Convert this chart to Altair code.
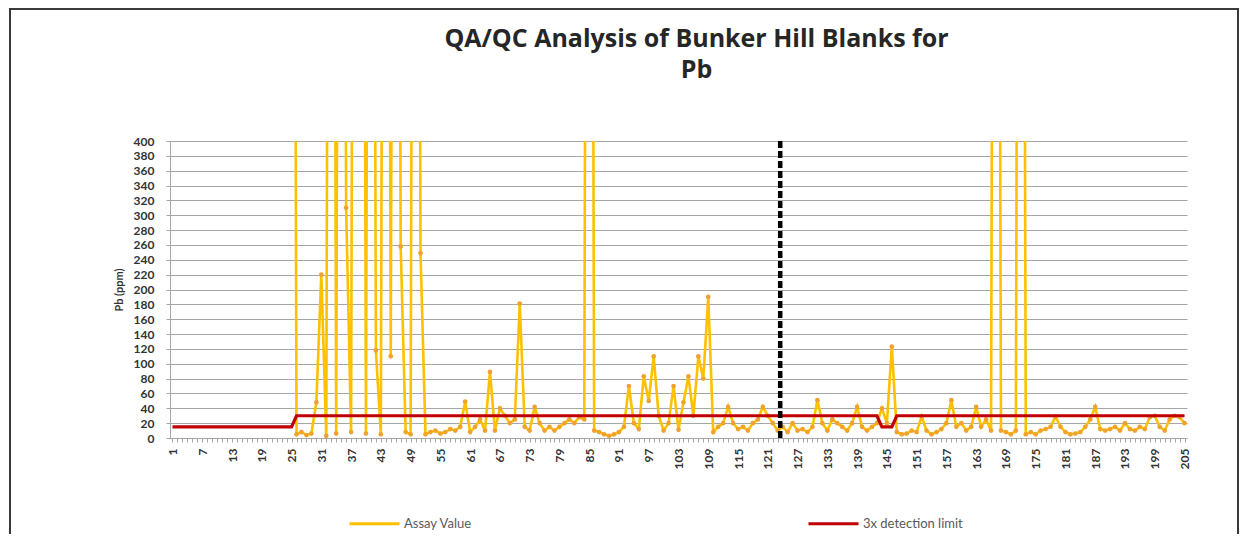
import altair as alt
import pandas as pd

# ---------------- data ----------------
categories = list(range(1, 206))

# Assay values (ppm); samples 1-24 have no assay value
assay_values = [
    2500, 5, 8, 4, 6, 48, 220, 3, 2500, 6,            # 25-34
    2500, 310, 8, 2500, 2500, 6, 2500, 118, 5, 2500,  # 35-44
    110, 2500, 258, 8, 5, 2500, 249, 5, 8, 10,        # 45-54
    6, 8, 12, 10, 15, 49, 8, 15, 25, 10,              # 55-64
    89, 10, 40, 30, 20, 25, 181, 15, 10, 42,          # 65-74
    20, 10, 15, 10, 15, 20, 25, 20, 28, 25,           # 75-84
    2500, 10, 8, 5, 3, 5, 8, 15, 70, 20,              # 85-94
    12, 83, 50, 110, 30, 10, 20, 70, 11, 48,          # 95-104
    83, 30, 110, 80, 190, 8, 15, 20, 42, 20,          # 105-114
    12, 15, 10, 20, 25, 42, 30, 20, 10, 15,           # 115-124
    8, 20, 10, 12, 8, 15, 51, 20, 10, 25,             # 125-134
    20, 15, 10, 20, 42, 15, 10, 15, 20, 40,           # 135-144
    20, 123, 8, 5, 6, 10, 8, 29, 10, 5,               # 145-154
    8, 12, 20, 51, 15, 20, 10, 15, 42, 15,            # 155-164
    25, 10, 2500, 10, 8, 5, 10, 2500, 5, 8,           # 165-174
    5, 10, 12, 15, 29, 15, 8, 5, 6, 8,                # 175-184
    15, 25, 42, 12, 10, 12, 15, 10, 20, 12,           # 185-194
    10, 15, 12, 28, 30, 15, 10, 25, 30, 28,           # 195-204
    20,                                               # 205
]
assay = [None] * 24 + assay_values

# 3x detection limit (ppm), read as steps
limit = [15] * 25 + [30] * 118 + [15] * 3 + [30] * 59

divider = [123.5]          # dashed separator position (sample no.)
x_label_step = 6           # x labels shown every 6th sample (1, 7, 13, ...)
y_ticks = list(range(0, 401, 20))

series_names = ["Assay Value", "3x detection limit"]
series_colors = ["#FFC000", "#C00000"]
marker_color = "#F0A22E"

df_assay = pd.DataFrame({"cat": categories, "value": assay, "series": series_names[0]})
df_limit = pd.DataFrame({"cat": categories, "value": limit, "series": series_names[1]})
df_div = pd.DataFrame({"cat": divider, "value": [0], "y1": [400]})

W, H = 1017, 297
FONT = "Lato"
TXT = "#333333"

x_scale = alt.Scale(domain=[0.5, 205.5], nice=False, zero=False)
y_scale = alt.Scale(domain=[0, 400], nice=False)

x_axis = alt.Axis(
    values=categories,
    labelExpr=f"(datum.value - 1) % {x_label_step} === 0 ? datum.label : ''",
    labelAngle=-90, labelOverlap=False, labelFlush=False,
    labelFontSize=12, labelFontWeight="bold", labelColor=TXT, labelFont=FONT,
    labelPadding=6, tickSize=4, tickColor="#A6A6A6", domainColor="#A6A6A6",
    grid=False, title=None,
)
y_axis = alt.Axis(
    values=y_ticks, title="Pb (ppm)", titleFont=FONT, titleFontSize=11,
    titleFontWeight="bold", titleColor=TXT, titlePadding=9,
    labelFont=FONT, labelFontSize=12, labelFontWeight="bold", labelColor=TXT,
    labelOverlap=False, labelFlush=False,
    labelPadding=12, tickSize=4, tickColor="#A6A6A6", domainColor="#A6A6A6",
    grid=True, gridColor="#A6A6A6", gridWidth=1.2,
)

color_scale = alt.Scale(domain=series_names, range=series_colors)
legend = alt.Legend(
    title=None, orient="none", direction="horizontal", legendX=178, legendY=356,
    columns=2, columnPadding=330, symbolType="stroke", symbolSize=2500,
    symbolStrokeWidth=3, labelFont=FONT, labelFontSize=13, labelColor="#595959",
    labelOffset=3,
)

base_x = alt.X("cat:Q", scale=x_scale, axis=x_axis)
base_y = alt.Y("value:Q", scale=y_scale, axis=y_axis)

assay_line = alt.Chart(df_assay).mark_line(clip=True, strokeWidth=2.6).encode(
    x=base_x, y=base_y,
    color=alt.Color("series:N", scale=color_scale, legend=legend),
)
assay_pts = alt.Chart(df_assay).mark_point(
    clip=True, filled=True, size=22, color=marker_color, opacity=1
).encode(x=base_x, y=base_y)

limit_line = alt.Chart(df_limit).mark_line(clip=True, strokeWidth=3.2).encode(
    x=base_x, y=base_y,
    color=alt.Color("series:N", scale=color_scale, legend=legend),
)

div_rule = alt.Chart(df_div).mark_rule(
    color="black", strokeWidth=4.5, strokeDash=[7, 3]
).encode(x=base_x, y=base_y, y2="y1:Q")

frame = alt.Chart(pd.DataFrame({"a": [0]})).mark_rect(
    fill="transparent", stroke="#3a3a3a", strokeWidth=2, clip=False
).encode(x=alt.value(-160), x2=alt.value(W + 51), y=alt.value(-132), y2=alt.value(H + 140))

chart = alt.layer(frame, assay_line, assay_pts, limit_line, div_rule).properties(
    width=W, height=H,
    autosize=alt.AutoSizeParams(type="none"),
    padding={"left": 162, "top": 133, "right": 52, "bottom": 96},
    title=alt.TitleParams(
        ["QA/QC Analysis of Bunker Hill Blanks for", "Pb"],
        font="Open Sans", fontSize=25, fontWeight="bold", color="#262626",
        anchor="middle", frame="group", dx=18, offset=-75, lineHeight=31,
    ),
    background="white",
).configure_view(strokeWidth=0)

chart.save("out.html", embed_options={"renderer": "svg", "actions": False})
